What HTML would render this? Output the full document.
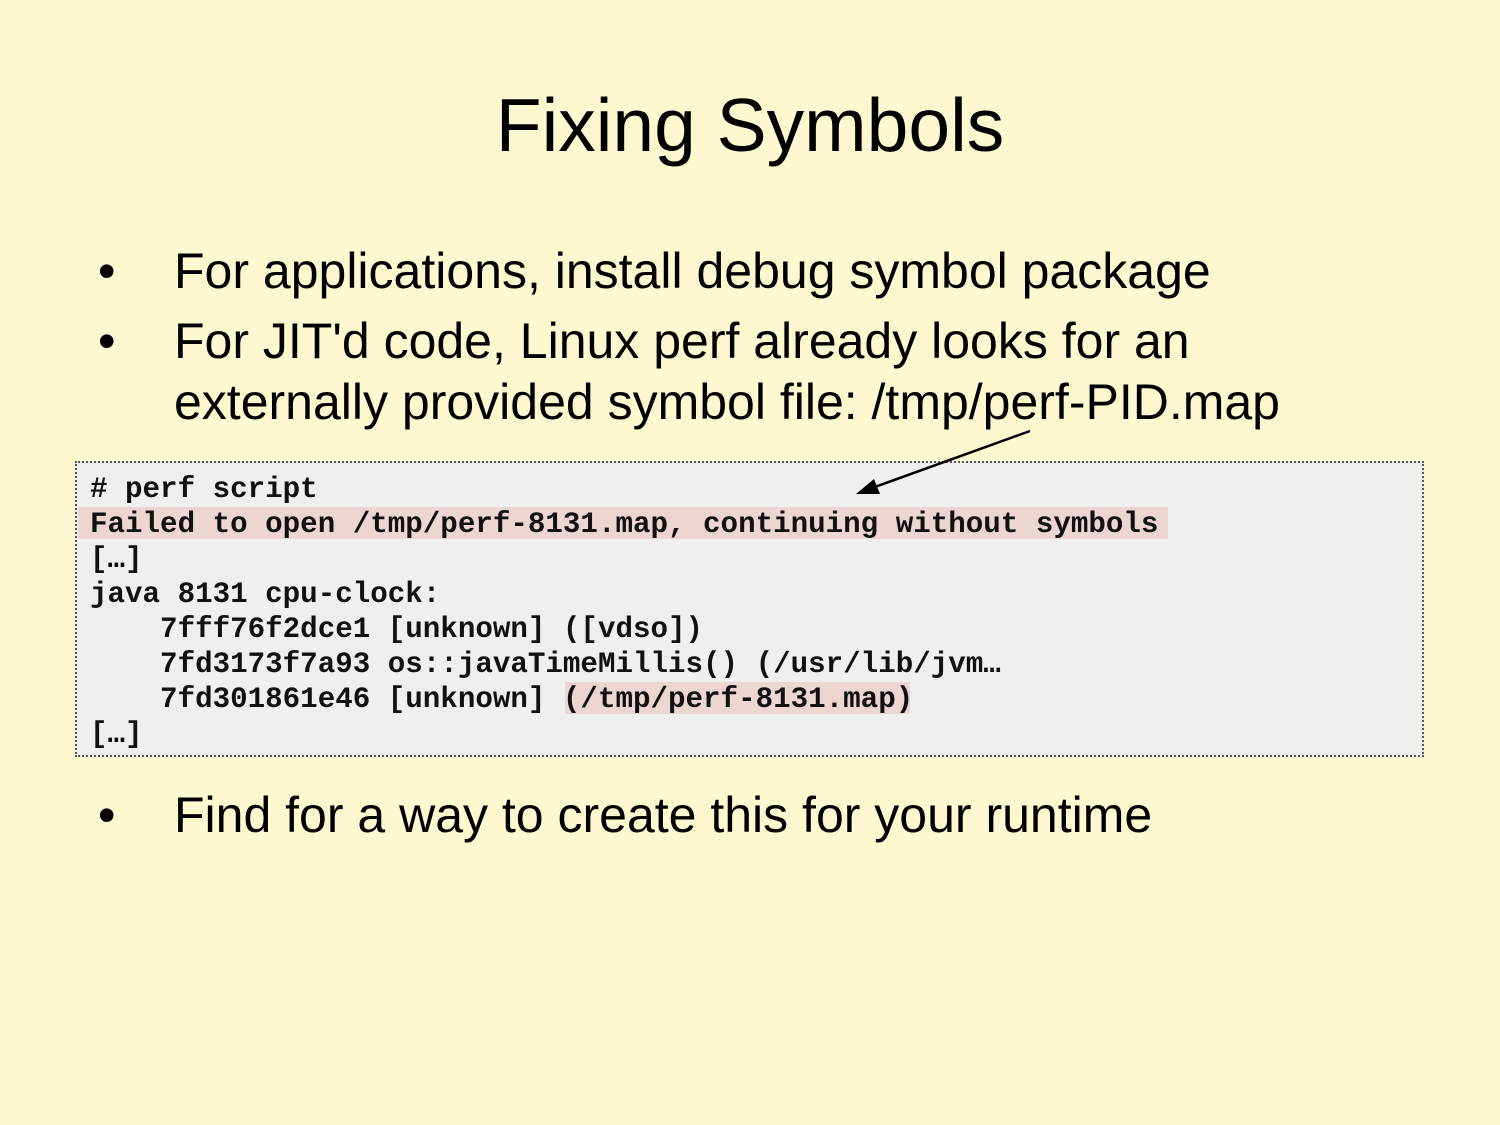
<!DOCTYPE html>
<html><head><meta charset="utf-8"><style>
body{margin:0;width:1500px;height:1125px;background:#fef8d0;position:relative;overflow:hidden;font-family:"Liberation Sans",sans-serif;color:#000}
.t{position:absolute;white-space:pre}
h1{position:absolute;left:0;width:1500px;top:82px;margin:0;text-align:center;font-weight:normal;font-size:75px}
.b{font-size:50px}
.box{position:absolute;left:75px;top:461px;width:1349px;height:296px;background:#efefee;border:2px dotted #555;box-sizing:border-box}
.m{position:absolute;font-family:"Liberation Mono",monospace;font-weight:bold;font-size:29.2px;white-space:pre;color:#111;line-height:35px}
.hl{position:absolute;background:#ecd5d2}
</style></head><body>
<h1>Fixing Symbols</h1>
<div class="t b" style="left:98px;top:242px">•</div>
<div class="t b" style="left:174px;top:242px">For applications, install debug symbol package</div>
<div class="t b" style="left:98px;top:312px">•</div>
<div class="t b" style="left:174px;top:312px">For JIT'd code, Linux perf already looks for an</div>
<div class="t b" style="left:174px;top:373px">externally provided symbol file: /tmp/perf-PID.map</div>
<div class="box"></div>
<div class="hl" style="left:78px;top:507px;width:1090px;height:32px"></div>
<div class="hl" style="left:565px;top:682px;width:345px;height:32px"></div>
<div class="m" style="left:90px;top:472px"># perf script
Failed to open /tmp/perf-8131.map, continuing without symbols
[…]
java 8131 cpu-clock:
    7fff76f2dce1 [unknown] ([vdso])
    7fd3173f7a93 os::javaTimeMillis() (/usr/lib/jvm…
    7fd301861e46 [unknown] (/tmp/perf-8131.map)
[…]</div>
<svg style="position:absolute;left:0;top:0" width="1500" height="1125">
<line x1="1030" y1="431" x2="872" y2="488" stroke="#000" stroke-width="2.5"/>
<polygon points="856,494 874,479 880,494" fill="#000"/>
</svg>
<div class="t b" style="left:98px;top:786px">•</div>
<div class="t b" style="left:174px;top:786px">Find for a way to create this for your runtime</div>
</body></html>
